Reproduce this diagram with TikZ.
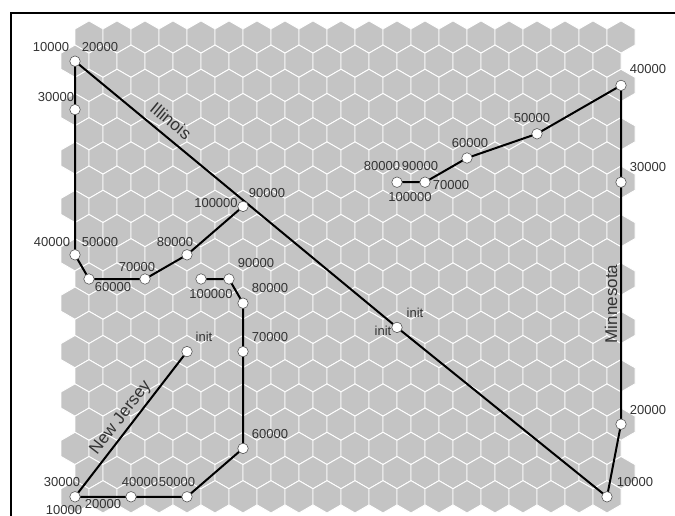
\documentclass[tikz,border=0pt]{standalone}
\usepackage{fontspec}
\setmainfont{Liberation Sans}
\definecolor{hexgray}{HTML}{C4C4C4}
\definecolor{labelgray}{HTML}{333333}
\begin{document}
\begin{tikzpicture}[x=1pt,y=-1pt,
  hex/.style={fill=hexgray,draw=white,line width=0.9pt},
  track/.style={line width=2pt,black},
  dot/.style={circle,fill=white,draw=black!65,line width=0.6pt,inner sep=0pt,minimum size=10.5pt},
  num/.style={font=\fontsize{13}{13}\selectfont,text=labelgray,inner sep=0pt},
  statename/.style={font=\fontsize{17}{17}\selectfont,text=labelgray,inner sep=0pt}]
\useasboundingbox (0,0) rectangle (675,516);
\begin{scope}
  \clip (0,0) rectangle (675,516);
  \draw[line width=1.5pt] (11,540) -- (11,13) -- (700,13);
\end{scope}
% hexagon grid
\foreach \r in {0,...,19}{
  \pgfmathsetmacro\yy{37+24.2*\r}
  \pgfmathsetmacro\xo{mod(\r,2)==0 ? 89 : 75}
  \foreach \c in {0,...,19}{
    \path[hex] (\xo+28*\c,\yy) ++(0,-16.13) -- ++(14,8.07) -- ++(0,16.13)
      -- ++(-14,8.07) -- ++(-14,-8.07) -- ++(0,-16.13) -- cycle;
  }
}
% shared init
\coordinate (init) at (397,327.4);
% Illinois
\coordinate (il1) at (75,61.2);
\coordinate (il3) at (75,109.6);
\coordinate (il9) at (75,254.8);
\coordinate (il60) at (89,279.0);
\coordinate (il70) at (145,279.0);
\coordinate (il80) at (187,254.8);
\coordinate (il90) at (243,206.4);
% Minnesota
\coordinate (mn10) at (607,496.8);
\coordinate (mn20) at (621,424.2);
\coordinate (mn30) at (621,182.2);
\coordinate (mn40) at (621,85.4);
\coordinate (mn50) at (537,133.8);
\coordinate (mn60) at (467,158.0);
\coordinate (mn70) at (425,182.2);
\coordinate (mn80) at (397,182.2);
% New Jersey
\coordinate (njinit) at (187,351.6);
\coordinate (nj10) at (75,496.8);
\coordinate (nj40) at (131,496.8);
\coordinate (nj50) at (187,496.8);
\coordinate (nj60) at (243,448.4);
\coordinate (nj70) at (243,351.6);
\coordinate (nj80) at (243,303.2);
\coordinate (nj90) at (229,279.0);
\coordinate (nj100) at (201,279.0);
% tracks
\draw[track] (init) -- (il1) -- (il3) -- (il9) -- (il60) -- (il70) -- (il80) -- (il90);
\draw[track] (init) -- (mn10) -- (mn20) -- (mn30) -- (mn40) -- (mn50) -- (mn60) -- (mn70) -- (mn80);
\draw[track] (njinit) -- (nj10) -- (nj40) -- (nj50) -- (nj60) -- (nj70) -- (nj80) -- (nj90) -- (nj100);
% dots
\foreach \p in {init,il1,il3,il9,il60,il70,il80,il90,mn10,mn20,mn30,mn40,mn50,mn60,mn70,mn80,njinit,nj10,nj40,nj50,nj60,nj70,nj80,nj90,nj100}
  \node[dot] (d\p) at (\p) {};
% Illinois labels
\node[num] (l1) at (51,47) {10000};
\node[num] (l2) at (100,47) {20000};
\node[num] (l3) at (56,97) {30000};
\node[num] (l4) at (52,242) {40000};
\node[num] (l5) at (100,242) {50000};
\node[num] (l6) at (113,287) {60000};
\node[num] (l7) at (137,267) {70000};
\node[num] (l8) at (175,242) {80000};
\node[num] (l9) at (216,203) {100000};
\node[num] (l10) at (267,193) {90000};
\node[num] (l11) at (383,331) {init};
% New Jersey labels
\node[num] (n1) at (256,263) {90000};
\node[num] (n2) at (270,288) {80000};
\node[num] (n3) at (211,294) {100000};
\node[num] (n4) at (204,337) {init};
\node[num] (n5) at (270,337) {70000};
\node[num] (n6) at (270,434) {60000};
\node[num] (n7) at (140,482) {40000};
\node[num] (n8) at (177,482) {50000};
\node[num] (n9) at (62,482) {30000};
\node[num] (n10) at (103,504) {20000};
\node[num] (n11) at (64,510) {10000};
% Minnesota labels
\node[num] (m1) at (635,482) {10000};
\node[num] (m2) at (648,410) {20000};
\node[num] (m3) at (415,313) {init};
\node[num] (m4) at (648,69) {40000};
\node[num] (m5) at (648,167) {30000};
\node[num] (m6) at (532,118) {50000};
\node[num] (m7) at (470,143) {60000};
\node[num] (m8) at (382,166) {80000};
\node[num] (m9) at (420,166) {90000};
\node[num] (m10) at (451,185) {70000};
\node[num] (m11) at (410,197) {100000};
% state names
\node[statename,rotate=-39.6] (sIL) at (171,121) {Illinois};
\node[statename,rotate=52.4] (sNJ) at (121,418) {New Jersey};
\node[statename,rotate=90] (sMN) at (611,304) {Minnesota};
\end{tikzpicture}
\end{document}
